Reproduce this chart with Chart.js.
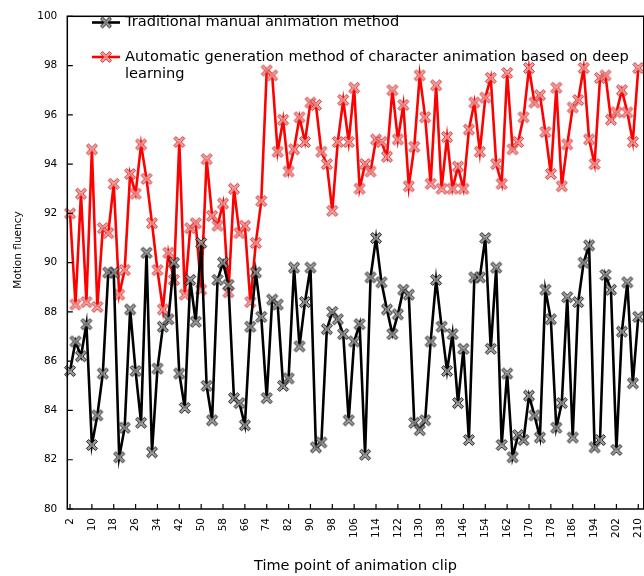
<!DOCTYPE html>
<html><head><meta charset="utf-8">
<script src="https://cdn.jsdelivr.net/npm/chart.js@4.4.1/dist/chart.umd.min.js"></script>
<style>
html,body{margin:0;padding:0;overflow:hidden;background:#fff;width:644px;height:576px}
#wrap{position:absolute;left:0;top:0;width:660px;height:576px}
</style></head><body>
<div id="wrap"><canvas id="c" width="660" height="576" style="width:660px;height:576px"></canvas></div>
<script>
const timePoints = [2,4,6,8,10,12,14,16,18,20,22,24,26,28,30,32,34,36,38,40,42,44,46,48,50,52,54,56,58,60,62,64,66,68,70,72,74,76,78,80,82,84,86,88,90,92,94,96,98,100,102,104,106,108,110,112,114,116,118,120,122,124,126,128,130,132,134,136,138,140,142,144,146,148,150,152,154,156,158,160,162,164,166,168,170,172,174,176,178,180,182,184,186,188,190,192,194,196,198,200,202,204,206,208,210];
const traditional = [85.6,86.8,86.2,87.5,82.6,83.8,85.5,89.6,89.6,82.1,
 83.3,88.1,85.6,83.5,90.4,82.3,85.7,87.4,87.7,90.0,
 85.5,84.1,89.3,87.6,90.8,85.0,83.6,89.3,90.0,89.1,
 84.5,84.3,83.4,87.4,89.6,87.8,84.5,88.5,88.3,85.0,
 85.3,89.8,86.6,88.4,89.8,82.5,82.7,87.3,88.0,87.7,
 87.1,83.6,86.8,87.5,82.2,89.4,91.0,89.2,88.1,87.1,
 87.9,88.9,88.7,83.5,83.2,83.6,86.8,89.3,87.4,85.6,
 87.1,84.3,86.5,82.8,89.4,89.4,91.0,86.5,89.8,82.6,
 85.5,82.1,83.0,82.8,84.6,83.8,82.9,88.9,87.7,83.3,
 84.3,88.6,82.9,88.4,90.0,90.7,82.5,82.8,89.5,88.9,
 82.4,87.2,89.2,85.1,87.8];
const deepLearning = [92.0,88.3,92.8,88.4,94.6,88.2,91.4,91.2,93.2,88.7,
 89.7,93.6,92.8,94.8,93.4,91.6,89.7,88.1,90.4,89.3,
 94.9,88.7,91.4,91.6,88.9,94.2,91.9,91.5,92.4,88.8,
 93.0,91.2,91.5,88.4,90.8,92.5,97.8,97.6,94.5,95.8,
 93.7,94.6,95.9,94.9,96.5,96.4,94.5,94.0,92.1,94.9,
 96.6,94.9,97.1,93.0,94.0,93.7,95.0,94.9,94.3,97.0,
 95.0,96.4,93.1,94.7,97.6,95.9,93.2,97.2,93.0,95.1,
 93.0,93.9,93.0,95.4,96.5,94.5,96.7,97.5,94.0,93.2,
 97.7,94.6,94.9,95.9,97.9,96.5,96.8,95.3,93.6,97.1,
 93.1,94.8,96.3,96.6,97.9,95.0,94.0,97.5,97.6,95.8,
 96.1,97.0,96.1,94.9,97.9];
const xTickValues = [2,10,18,26,34,42,50,58,66,74,82,90,98,106,114,122,130,138,146,154,162,170,178,186,194,202,210];
const seriesNames = ['Traditional manual animation method','Automatic generation method of character animation based on deep learning'];
const xTitle = 'Time point of animation clip';
const yTitle = 'Motion fluency';

function makeMarker(fill, stroke){
  const c = document.createElement('canvas'); c.width = 16; c.height = 16;
  const g = c.getContext('2d');
  const s = 6.3, w = 1.5, a = Math.PI/4;
  const pts = [[w,s],[w,w],[s,w],[s,-w],[w,-w],[w,-s],[-w,-s],[-w,-w],[-s,-w],[-s,w],[-w,w],[-w,s]];
  g.beginPath();
  pts.forEach((p,i)=>{
    const x = 8 + p[0]*Math.cos(a) - p[1]*Math.sin(a);
    const y = 8 + p[0]*Math.sin(a) + p[1]*Math.cos(a);
    i ? g.lineTo(x,y) : g.moveTo(x,y);
  });
  g.closePath();
  g.fillStyle = fill; g.fill();
  g.lineWidth = 1; g.strokeStyle = stroke; g.stroke();
  return c;
}
const blackMarker = makeMarker('rgba(140,140,140,0.85)','rgba(0,0,0,0.85)');
const redMarker = makeMarker('rgba(240,140,140,0.85)','rgba(205,40,40,0.9)');

const FONT = 'DejaVu Sans';

const framePlugin = {
  id:'frame',
  afterDatasetsDraw(chart){
    const {ctx, chartArea:a, scales:{x,y}} = chart;
    ctx.save();
    ctx.strokeStyle = '#000'; ctx.lineWidth = 1.5;
    ctx.strokeRect(a.left, a.top, a.right-a.left, a.bottom-a.top);
    ctx.lineWidth = 1.2;
    ctx.beginPath();
    x.ticks.forEach(t=>{ const px = x.getPixelForValue(t.value); ctx.moveTo(px, a.bottom); ctx.lineTo(px, a.bottom-5); });
    y.ticks.forEach(t=>{ const py = y.getPixelForValue(t.value); ctx.moveTo(a.left, py); ctx.lineTo(a.left+5.5, py); });
    ctx.stroke();
    // y-axis title
    ctx.translate(18, 250);
    ctx.rotate(-Math.PI/2);
    ctx.font = '10.5px "' + FONT + '"';
    ctx.fillStyle = '#000';
    ctx.textAlign = 'center';
    ctx.textBaseline = 'middle';
    ctx.fillText(yTitle, 0, 0);
    ctx.restore();
  }
};

const legendPlugin = {
  id:'customLegend',
  afterDraw(chart){
    const ctx = chart.ctx;
    ctx.save();
    ctx.font = '14.6px "' + FONT + '"';
    ctx.textBaseline = 'middle';
    ctx.fillStyle = '#000';
    const x0 = 92, x1 = 120, tx = 125, maxW = 512;
    const rows = [22.5, 57];
    chart.data.datasets.forEach((ds,i)=>{
      const yy = rows[i];
      ctx.strokeStyle = ds.borderColor; ctx.lineWidth = ds.borderWidth;
      ctx.beginPath(); ctx.moveTo(x0, yy); ctx.lineTo(x1, yy); ctx.stroke();
      const m = ds.pointStyle;
      ctx.drawImage(m, (x0+x1)/2 - m.width/2, yy - m.height/2);
      const words = ds.label.split(' ');
      let lines = [], cur = '';
      words.forEach(wd=>{
        const t = cur ? cur + ' ' + wd : wd;
        if (ctx.measureText(t).width > maxW && cur) { lines.push(cur); cur = wd; } else cur = t;
      });
      lines.push(cur);
      lines.forEach((ln,j)=> ctx.fillText(ln, tx, yy + j*17));
    });
    ctx.restore();
  }
};

new Chart(document.getElementById('c'), {
  type:'line',
  data:{
    datasets:[
      {label:seriesNames[0], data:timePoints.map((t,i)=>({x:t,y:traditional[i]})),
       borderColor:'#000', borderWidth:2.6, pointStyle:blackMarker, pointRadius:6, clip:10, tension:0},
      {label:seriesNames[1], data:timePoints.map((t,i)=>({x:t,y:deepLearning[i]})),
       borderColor:'#ff0000', borderWidth:2.6, pointStyle:redMarker, pointRadius:6, clip:10, tension:0}
    ]
  },
  options:{
    responsive:false, animation:false, devicePixelRatio:1,
    layout:{padding:{top:12,left:0,right:13,bottom:0}},
    plugins:{legend:{display:false}, tooltip:{enabled:false}},
    scales:{
      x:{type:'linear', min:1, max:212,
        afterBuildTicks:s=>{ s.ticks = xTickValues.map(v=>({value:v})); },
        afterFit:s=>{ s.height = 67; },
        grid:{display:false, drawTicks:false},
        border:{display:false},
        ticks:{autoSkip:false, minRotation:90, maxRotation:90, padding:9, color:'#000', font:{family:FONT, size:10.5}},
        title:{display:true, text:xTitle, color:'#000', font:{family:FONT, size:14.5}, padding:{top:0,bottom:1}}
      },
      y:{min:80, max:100,
        afterFit:s=>{ s.width = 67.3; },
        grid:{display:false, drawTicks:false},
        border:{display:false},
        ticks:{stepSize:2, padding:10, color:'#000', font:{family:FONT, size:10.5}},
        title:{display:false, text:yTitle}
      }
    }
  },
  plugins:[framePlugin, legendPlugin]
});
</script>
</body></html>
